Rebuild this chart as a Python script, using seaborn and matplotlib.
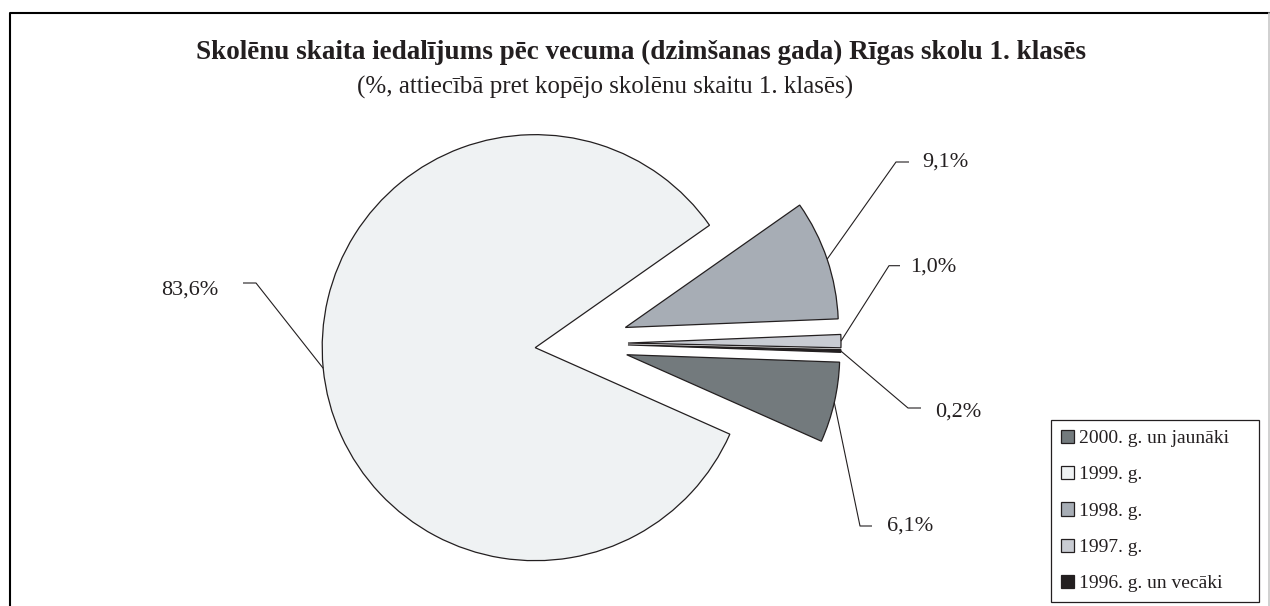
import matplotlib
matplotlib.use("Agg")
import matplotlib.pyplot as plt
import seaborn as sns
import numpy as np

# --- data ---
categories = ["2000. g. un jaunāki", "1999. g.", "1998. g.", "1997. g.", "1996. g. un vecāki"]
shares = [6.1, 83.6, 9.1, 1.0, 0.2]
value_labels = ["6,1%", "83,6%", "9,1%", "1,0%", "0,2%"]
title = "Skolēnu skaita iedalījums pēc vecuma (dzimšanas gada) Rīgas skolu 1. klasēs"
subtitle = "(%, attiecībā pret kopējo skolēnu skaitu 1. klasēs)"

colors = ["#737a7d", "#eff2f3", "#a7adb5", "#c9ccd3", "#231f20"]
edge = "#231f20"

W, H = 1270, 606

def fy(y):
    # layout constants are measured from the top of the image
    return H - y

sns.set_theme(style="white")
plt.rcParams["font.family"] = ["Liberation Serif", "DejaVu Serif"]

fig = plt.figure(figsize=(W / 100, H / 100), dpi=100)
ax = fig.add_axes([0, 0, 1, 1])

R = 213
wedges, _ = ax.pie(shares, colors=colors, startangle=-2, counterclock=False,
                   radius=R, center=(578, fy(343.5)), explode=[50, 43, 50, 50, 50],
                   wedgeprops=dict(edgecolor=edge, linewidth=0.9), frame=True)
ax.set_xlim(0, W)
ax.set_ylim(0, H)
ax.set_aspect("equal")
ax.axis("off")

# --- value labels with elbow leader lines ---
# (elbow point, end of horizontal stub, text x, text baseline, alignment)
label_layout = [
    ((860, 526), (872, 526), 887, 530.7, "left"),
    ((256, 283), (243, 283), 218, 295, "right"),
    ((896, 162), (909, 162), 922, 167, "left"),
    ((889, 265.7), (900, 265.7), 910, 271.7, "left"),
    ((908, 408), (921, 408), 935, 416.7, "left"),
]
for w, txt, (elb, stub, tx, ty, ha) in zip(wedges, value_labels, label_layout):
    mid = np.deg2rad((w.theta1 + w.theta2) / 2)
    cx, cy = w.center
    ax0, ay0 = cx + w.r * np.cos(mid), cy + w.r * np.sin(mid)
    ax.plot([ax0, elb[0], stub[0]], [ay0, fy(elb[1]), fy(stub[1])],
            color=edge, lw=0.8, solid_capstyle="butt")
    ax.text(tx, fy(ty), txt, ha=ha, va="baseline", fontsize=16, color="#231f20")

# --- titles ---
ax.text(640.5, fy(59), title, ha="center", va="baseline", fontsize=19.5,
        weight="bold", color="#231f20")
ax.text(605, fy(94), subtitle, ha="center", va="baseline", fontsize=18,
        color="#231f20")

# --- legend ---
leg = ax.legend(wedges, categories, loc="upper left",
                bbox_to_anchor=(1051 / W, 1 - 420 / H, (1259 - 1051) / W, 0),
                bbox_transform=fig.transFigure, mode="expand", fontsize=14,
                frameon=True, fancybox=False, edgecolor=edge, framealpha=1,
                handlelength=0.67, handleheight=0.67, handletextpad=0.26,
                labelspacing=0.97, borderpad=0.5, borderaxespad=0)
leg.get_frame().set_linewidth(0.9)
for t in leg.get_texts():
    t.set_color("#231f20")

# --- outer chart frame ---
ax.plot([9.5, 9.5, W], [0, fy(12.5), fy(12.5)], color="black", lw=1.5, clip_on=False)
ax.plot([1268.5, 1268.5], [0, fy(12.5)], color="#c8c8c8", lw=1.2, clip_on=False)

fig.savefig("out.png", dpi=100)
